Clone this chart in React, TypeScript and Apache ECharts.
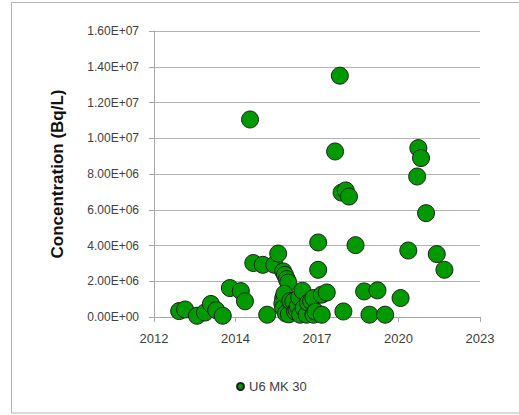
import React, { useEffect, useRef } from "react";
import * as echarts from "echarts";

const seriesName = "U6 MK 30";
const yTitle = "Concentration (Bq/L)";

// sampling time, decimal years
const sampleYears = [
  2012.85, 2013.05, 2013.45, 2013.72, 2013.92, 2014.1, 2014.32, 2014.56, 2014.93, 2015.07,
  2015.24, 2015.35, 2015.67, 2015.82, 2016.06, 2016.19, 2016.36, 2016.42, 2016.48, 2016.53,
  2016.36, 2016.33, 2016.36, 2016.4, 2016.45, 2016.55, 2016.6, 2016.7, 2016.76, 2016.81,
  2016.85, 2016.9, 2016.93, 2017.01, 2017.05, 2017.15, 2017.2, 2017.3, 2017.38, 2017.38,
  2017.45, 2017.54, 2017.54, 2017.66, 2017.66, 2017.83, 2018.11, 2018.27, 2018.33, 2018.47,
  2018.58, 2018.39, 2018.8, 2019.09, 2019.27, 2019.54, 2019.8, 2020.32, 2020.58, 2020.88,
  2020.92, 2021.01, 2021.18, 2021.54, 2021.8,
];

// concentration, Bq/L
const concentrations = [
  330000, 420000, 70000, 250000, 730000, 380000, 70000, 1620000, 1450000, 880000,
  11050000, 3020000, 2920000, 130000, 2920000, 3550000, 2550000, 2360000, 2120000, 1930000,
  1060000, 750000, 500000, 1300000, 200000, 150000, 900000, 870000, 310000, 410000,
  600000, 1100000, 130000, 1470000, 500000, 130000, 800000, 900000, 1060000, 130000,
  300000, 2640000, 4170000, 1250000, 130000, 1370000, 9260000, 13500000, 6960000, 7080000,
  6740000, 310000, 4020000, 1430000, 130000, 1490000, 130000, 1060000, 3720000, 7860000,
  9450000, 8890000, 5810000, 3520000, 2640000,
];

const fmtExp = (v: number) => {
  const [m, e] = v.toExponential(2).split("e");
  const n = parseInt(e, 10);
  const s = n < 0 ? "-" : "+";
  const a = Math.abs(n);
  return `${m}E${s}${a < 10 ? "0" + a : a}`;
};

export default function App() {
  const ref = useRef<HTMLDivElement>(null);
  useEffect(() => {
    if (!ref.current) return;
    const chart = echarts.init(ref.current, null, { renderer: "svg" });
    const data = sampleYears.map((y, i) => [y, concentrations[i]]);
    chart.setOption({
      animation: false,
      backgroundColor: "#ffffff",
      textStyle: { fontFamily: "Liberation Sans, Arial, sans-serif" },
      graphic: [
        {
          type: "rect",
          shape: { x: 11.5, y: 2.5, width: 530, height: 410.5 },
          style: { fill: "none", stroke: "#b4b4b4", lineWidth: 1 },
          silent: true,
        },
      ],
      grid: { left: 154, top: 31, width: 326, height: 286 },
      legend: {
        left: 231,
        top: 375,
        icon: "circle",
        itemWidth: 7,
        itemHeight: 7,
        itemGap: 4,
        textStyle: { fontSize: 13, color: "#404040" },
        data: [seriesName],
      },
      xAxis: {
        type: "value",
        min: 2012,
        max: 2023,
        interval: 2.75,
        axisLine: { show: true, lineStyle: { color: "#a6a6a6" } },
        axisTick: { show: true, inside: false, length: 5, lineStyle: { color: "#a6a6a6" } },
        axisLabel: {
          margin: 15,
          fontSize: 13,
          color: "#404040",
          formatter: (v: number) => String(Math.floor(v)),
        },
        splitLine: { show: false },
      },
      yAxis: {
        type: "value",
        min: 0,
        max: 16000000,
        interval: 2000000,
        name: yTitle,
        nameLocation: "middle",
        nameGap: 88,
        nameTextStyle: { fontSize: 17, fontWeight: "bold", color: "#111111" },
        axisLine: { show: true, lineStyle: { color: "#a6a6a6" } },
        axisTick: { show: true, inside: false, length: 5, lineStyle: { color: "#a6a6a6" } },
        axisLabel: { margin: 15, fontSize: 12, color: "#404040", formatter: fmtExp },
        splitLine: { show: true, lineStyle: { color: "#b3b3b3", width: 1 } },
      },
      series: [
        {
          name: seriesName,
          type: "scatter",
          symbol: "circle",
          symbolSize: 17,
          itemStyle: { color: "#009a00", borderColor: "#1e1e1e", borderWidth: 1, opacity: 1 },
          data,
        },
      ],
    });
    return () => chart.dispose();
  }, []);
  return (
    <div
      ref={ref}
      style={{ position: "fixed", left: 0, top: 0, width: 519, height: 415 }}
    />
  );
}
